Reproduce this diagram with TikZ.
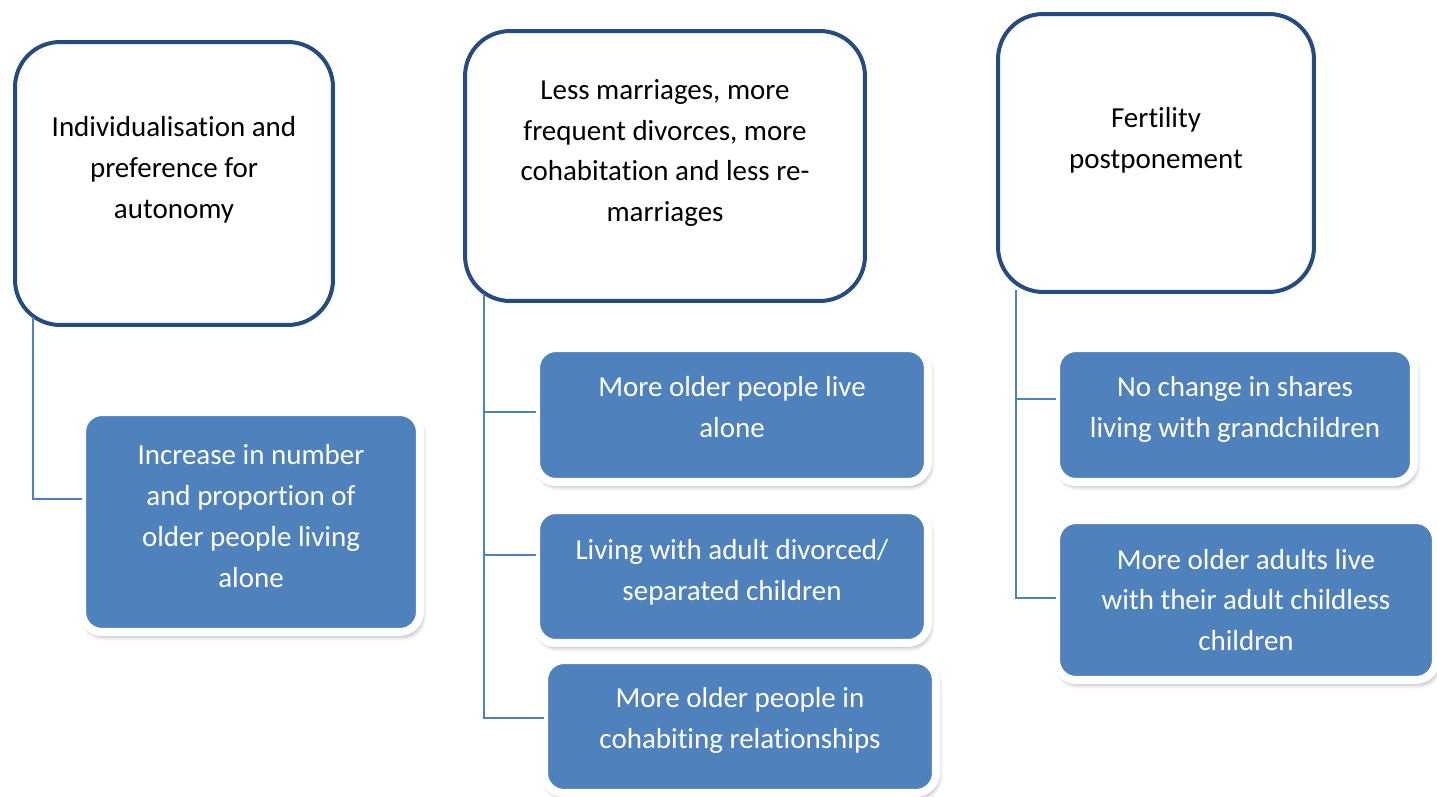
\documentclass[tikz,border=0pt]{standalone}
\usepackage{fontspec}
\setmainfont[Ligatures=NoCommon]{Carlito}
\usepackage{color, xcolor}
\usetikzlibrary{shadows.blur}

\definecolor{causeline}{RGB}{37,76,128}
\definecolor{effectfill}{RGB}{79,129,189}

\tikzset{
  cause/.style={draw=causeline, line width=0.08cm, rounded corners=0.9cm, fill=white, outer sep=0pt},
  causetext/.style={align=center, text=black, inner sep=0pt, font=\fontsize{16.5}{23.3}\selectfont},
  effect/.style={draw=white, line width=0.16cm, rounded corners=0.4cm, fill=effectfill, outer sep=0pt,
    blur shadow={shadow xshift=0.04cm, shadow yshift=-0.08cm, shadow blur radius=0.1cm, shadow opacity=40}},
  effecttext/.style={align=center, text=white, inner sep=0pt, font=\fontsize{16.5}{23.3}\selectfont},
  link/.style={draw=effectfill, line width=0.03cm}
}

\begin{document}
\begin{tikzpicture}[x=0.02cm, y=-0.02cm]
    \useasboundingbox (0,0) rectangle (1437,797);

    \node[cause, minimum width=6.36cm, minimum height=5.66cm] (boxA) at (174,183.5) {};
    \node[cause, minimum width=8.0cm, minimum height=5.4cm] (boxB) at (665,166) {};
    \node[cause, minimum width=6.32cm, minimum height=5.56cm] (boxC) at (1156,153) {};

    \node[causetext] (ta) at ([yshift=-2.56cm]boxA.north) {Individualisation and\\preference for\\autonomy};
    \node[causetext] (tb) at ([yshift=-2.44cm]boxB.north) {Less marriages, more\\frequent divorces, more\\cohabitation and less re-\\marriages};
    \node[causetext] (tc) at ([yshift=-2.52cm]boxC.north) {Fertility\\postponement};

    \node[effect, minimum width=6.76cm, minimum height=4.4cm] (d1) at (251,522) {};
    \node[effect, minimum width=7.84cm, minimum height=2.68cm] (e1) at (732,415) {};
    \node[effect, minimum width=7.84cm, minimum height=2.66cm] (e2) at (732,576.5) {};
    \node[effect, minimum width=7.84cm, minimum height=2.66cm] (e3) at (740,726.5) {};
    \node[effect, minimum width=7.16cm, minimum height=2.68cm] (f1) at (1235,415) {};
    \node[effect, minimum width=7.6cm, minimum height=3.2cm] (f2) at (1246,600) {};

    \node[effecttext] (d1t) at ([yshift=0.12cm]d1.center) {Increase in number\\and proportion of\\older people living\\alone};
    \node[effecttext] (e1t) at ([yshift=0.16cm]e1.center) {More older people live\\alone};
    \node[effecttext] (e2t) at ([yshift=0.08cm]e2.center) {Living with adult divorced/\\separated children};
    \node[effecttext] (e3t) at ([yshift=0.12cm]e3.center) {More older people in\\cohabiting relationships};
    \node[effecttext] (f1t) at ([yshift=0.12cm]f1.center) {No change in shares\\living with grandchildren};
    \node[effecttext] (f2t) at (f2.center) {More older adults live\\with their adult childless\\children};

    \draw[link] ([shift={(18,-8)}]boxA.south west) |- ([yshift=0.46cm]d1.west);
    \draw[link] ([shift={(19,-7)}]boxB.south west) |- ([yshift=0.06cm]e1.west);
    \draw[link] ([shift={(19,-7)}]boxB.south west) |- ([yshift=0.43cm]e2.west);
    \draw[link] ([shift={(19,-7)}]boxB.south west) |- ([yshift=0.17cm]e3.west);
    \draw[link] ([shift={(18,-2)}]boxC.south west) |- ([yshift=0.32cm]f1.west);
    \draw[link] ([shift={(18,-2)}]boxC.south west) |- ([yshift=0.04cm]f2.west);

\end{tikzpicture}
\end{document}
